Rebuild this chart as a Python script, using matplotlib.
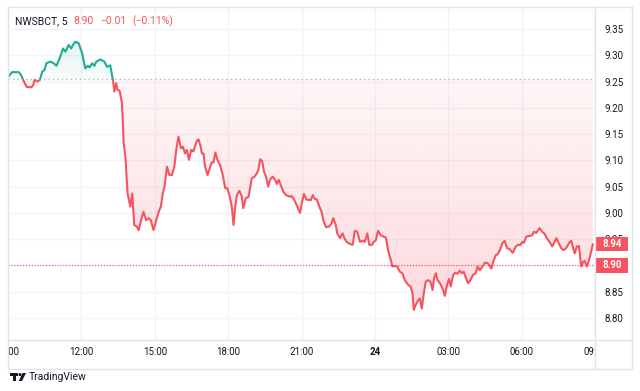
import numpy as np
import matplotlib
matplotlib.use("Agg")
import matplotlib.pyplot as plt
from matplotlib.patches import Rectangle, PathPatch, Polygon, Circle
from matplotlib.path import Path
from matplotlib.transforms import Bbox, TransformedBbox, Affine2D
from matplotlib.lines import Line2D

# 5-minute chart, time in hours from 00:00 of day one (24 = midnight "24")
hours = [9.00, 9.17, 9.44, 9.54, 9.62, 9.76, 9.95, 10.03, 10.09, 10.19, 10.30, 10.40, 10.49, 10.57, 10.73,
         10.87, 10.98, 11.11, 11.25, 11.35, 11.48, 11.58, 11.66, 11.76, 11.89, 12.03, 12.16, 12.26, 12.34,
         12.44, 12.53, 12.61, 12.78, 12.94, 13.05, 13.18, 13.29, 13.35, 13.42, 13.48, 13.56, 13.66, 13.73,
         13.80, 13.89, 14.00, 14.08, 14.16, 14.27, 14.34, 14.44, 14.54, 14.65, 14.75, 14.84, 14.95, 15.06,
         15.16, 15.25, 15.33, 15.40, 15.50, 15.60, 15.70, 15.80, 15.88, 15.97, 16.07, 16.15, 16.24, 16.31,
         16.40, 16.49, 16.58, 16.72, 16.79, 16.86, 16.93, 16.99, 17.06, 17.16, 17.27, 17.33, 17.40, 17.48,
         17.56, 17.67, 17.78, 17.88, 17.97, 18.05, 18.15, 18.22, 18.29, 18.36, 18.46, 18.56, 18.62, 18.72,
         18.83, 18.97, 19.06, 19.17, 19.24, 19.31, 19.39, 19.47, 19.55, 19.64, 19.71, 19.82, 19.92, 19.99,
         20.07, 20.15, 20.26, 20.37, 20.46, 20.53, 20.60, 20.69, 20.80, 20.94, 21.01, 21.10, 21.21, 21.32,
         21.38, 21.46, 21.55, 21.62, 21.73, 21.82, 21.89, 22.00, 22.13, 22.23, 22.30, 22.40, 22.46, 22.57,
         22.68, 22.75, 22.84, 22.98, 23.09, 23.18, 23.28, 23.39, 23.50, 23.59, 23.69, 23.77, 23.87, 23.96,
         24.04, 24.13, 24.23, 24.34, 24.45, 24.54, 24.61, 24.72, 24.82, 24.91, 25.02, 25.13, 25.22, 25.36,
         25.46, 25.54, 25.59, 25.67, 25.77, 25.84, 25.92, 26.00, 26.08, 26.18, 26.27, 26.36, 26.42, 26.49,
         26.56, 26.65, 26.76, 26.86, 26.95, 27.03, 27.10, 27.20, 27.29, 27.38, 27.47, 27.55, 27.63, 27.71,
         27.81, 27.91, 28.01, 28.12, 28.20, 28.29, 28.40, 28.49, 28.58, 28.67, 28.76, 28.86, 28.94, 29.03,
         29.13, 29.21, 29.31, 29.40, 29.51, 29.64, 29.76, 29.85, 29.95, 30.03, 30.09, 30.19, 30.33, 30.44,
         30.50, 30.60, 30.73, 30.84, 30.94, 31.03, 31.14, 31.25, 31.35, 31.42, 31.52, 31.62, 31.71, 31.82,
         31.93, 32.03, 32.09, 32.17, 32.26, 32.34, 32.44, 32.50, 32.57, 32.67, 32.78, 32.91]

prices = [9.259, 9.268, 9.268, 9.262, 9.253, 9.240, 9.239, 9.243, 9.253, 9.250, 9.253, 9.269, 9.272, 9.285,
          9.288, 9.285, 9.280, 9.294, 9.313, 9.307, 9.320, 9.313, 9.320, 9.326, 9.323, 9.304, 9.275, 9.280,
          9.277, 9.285, 9.280, 9.288, 9.292, 9.288, 9.278, 9.281, 9.253, 9.231, 9.247, 9.234, 9.233, 9.209,
          9.133, 9.107, 9.037, 9.012, 9.037, 8.977, 8.974, 8.967, 8.986, 9.002, 8.986, 8.990, 8.986, 8.967,
          8.986, 9.002, 9.012, 9.037, 9.050, 9.088, 9.072, 9.072, 9.088, 9.120, 9.145, 9.123, 9.126, 9.113,
          9.120, 9.101, 9.120, 9.117, 9.137, 9.140, 9.129, 9.113, 9.113, 9.088, 9.072, 9.088, 9.096, 9.096,
          9.115, 9.101, 9.091, 9.072, 9.047, 9.047, 9.034, 9.012, 8.977, 9.012, 9.034, 9.042, 9.031, 9.009,
          9.028, 9.030, 9.066, 9.068, 9.075, 9.082, 9.102, 9.099, 9.078, 9.069, 9.050, 9.063, 9.069, 9.063,
          9.055, 9.063, 9.053, 9.040, 9.034, 9.032, 9.031, 9.032, 9.026, 9.015, 9.000, 9.018, 9.036, 9.025,
          9.025, 9.024, 9.034, 9.026, 9.026, 9.012, 9.002, 8.986, 8.973, 8.974, 8.980, 8.990, 8.977, 8.961,
          8.952, 8.961, 8.952, 8.945, 8.941, 8.939, 8.966, 8.964, 8.945, 8.947, 8.945, 8.961, 8.939, 8.939,
          8.945, 8.948, 8.966, 8.958, 8.955, 8.953, 8.929, 8.917, 8.898, 8.899, 8.898, 8.888, 8.885, 8.872,
          8.863, 8.860, 8.847, 8.815, 8.825, 8.834, 8.837, 8.818, 8.847, 8.869, 8.872, 8.869, 8.853, 8.876,
          8.885, 8.872, 8.867, 8.857, 8.842, 8.863, 8.874, 8.860, 8.882, 8.886, 8.884, 8.890, 8.885, 8.888,
          8.878, 8.866, 8.872, 8.882, 8.885, 8.898, 8.891, 8.898, 8.905, 8.905, 8.901, 8.894, 8.910, 8.919,
          8.922, 8.931, 8.942, 8.947, 8.933, 8.931, 8.924, 8.936, 8.939, 8.939, 8.945, 8.943, 8.955, 8.956,
          8.958, 8.964, 8.962, 8.971, 8.964, 8.960, 8.952, 8.945, 8.936, 8.945, 8.952, 8.942, 8.933, 8.929,
          8.933, 8.942, 8.947, 8.936, 8.923, 8.936, 8.937, 8.898, 8.905, 8.909, 8.898, 8.914, 8.940]

baseline = 9.255
last_price = 8.94
ref_price = 8.90
price_ticks = [8.80, 8.85, 8.90, 8.95, 9.00, 9.05, 9.10, 9.15, 9.20, 9.25, 9.30, 9.35]
time_ticks = [9, 12, 15, 18, 21, 24, 27, 30, 33]
time_labels = ["09:00", "12:00", "15:00", "18:00", "21:00", "24", "03:00", "06:00", "09:00"]
header = [("NWSBCT, 5", "#131722"), ("8.90", "#f7525f"), ("\u22120.01", "#f7525f"), ("(\u22120.11%)", "#f7525f")]

if len(hours) != len(prices):
    raise ValueError("length mismatch %d %d" % (len(hours), len(prices)))

GREEN = "#22ab94"
RED = "#f7525f"
BORDER = "#e0e3eb"
TEXT = "#131722"
plt.rcParams["font.family"] = ["Roboto", "DejaVu Sans"]

W, H = 640, 391
fig = plt.figure(figsize=(6.4, 3.91), dpi=100)
px = Affine2D().scale(1 / W, -1 / H).translate(0, 1) + fig.transFigure

ax = fig.add_axes([8 / W, 1 - 340 / H, 587 / W, 333 / H])
xmin, xmax = 9.0, 32.98
ymin, ymax = 8.758, 9.392

h = np.array(hours)
p = np.array(prices)

# gradient fills clipped to the area between the line and the baseline
def gradient_fill(where, y0, y1, a0, a1, color):
    poly = ax.fill_between(h, p, baseline, where=where, interpolate=True, color="none", lw=0)
    path = Path.make_compound_path(*poly.get_paths())
    patch = PathPatch(path, transform=ax.transData, facecolor="none", edgecolor="none")
    ax.add_patch(patch)
    rgb = matplotlib.colors.to_rgb(color)
    img = np.zeros((256, 1, 4))
    img[:, 0, :3] = rgb
    img[:, 0, 3] = np.linspace(a0, a1, 256)
    im = ax.imshow(img, extent=[xmin, xmax, y0, y1], origin="lower", aspect="auto",
                   zorder=1, interpolation="bilinear")
    im.set_clip_path(patch)

gradient_fill(p <= baseline, 8.80, baseline, 0.22, 0.05, RED)
gradient_fill(p >= baseline, baseline, 9.33, 0.04, 0.12, GREEN)

# line: green above the baseline, red below
lg, = ax.plot(h, p, color=GREEN, lw=1.5, zorder=3, solid_joinstyle="round")
lg.set_clip_path(Rectangle((xmin, baseline), xmax - xmin, 1, transform=ax.transData))
lr, = ax.plot(h, p, color=RED, lw=1.5, zorder=3, solid_joinstyle="round")
lr.set_clip_path(Rectangle((xmin, baseline - 1), xmax - xmin, 1, transform=ax.transData))

ax.axhline(baseline, color="#b2b5be", lw=1, ls=(0, (1, 2.2)), zorder=2)
ax.axhline(ref_price, color=RED, lw=0.8, ls=(0, (1, 1.6)), zorder=2)

ax.set_xlim(xmin, xmax)
ax.set_ylim(ymin, ymax)
ax.set_yticks(price_ticks)
# the 8.90 scale label sits under the price tag, so only the tag shows it
ax.set_yticklabels(["" if abs(v - ref_price) < 1e-9 else "%.2f" % v for v in price_ticks])
ax.set_xticks(time_ticks)
ax.set_xticklabels(time_labels)
ax.grid(True, color="#f0f3fa", lw=1)
ax.set_axisbelow(True)
ax.yaxis.tick_right()
ax.tick_params(axis="y", length=0, pad=6.5, labelsize=7, labelcolor=TEXT)
ax.tick_params(axis="x", length=0, pad=5, labelsize=7, labelcolor=TEXT)
for s in ax.spines.values():
    s.set_visible(False)

clip = TransformedBbox(Bbox([[8 / W, 0], [595 / W, 1]]), fig.transFigure)
for t in ax.xaxis.get_major_ticks():
    t.label1.set_clip_box(clip)
    t.label1.set_clip_on(True)
    if t.label1.get_text() == "24":
        t.label1.set_fontweight("bold")

# price labels on the scale
ytr = ax.get_yaxis_transform()
for val in [last_price, ref_price]:
    ax.add_patch(Rectangle((1.0, val - 0.0135), 33 / 587, 0.027, transform=ytr,
                           facecolor=RED, edgecolor="none", clip_on=False, zorder=5))
    ax.text(1 + 17 / 587, val, "%.2f" % val, transform=ytr, ha="center", va="center",
            color="white", fontsize=7, fontweight="bold", clip_on=False, zorder=6)

# frame lines
for (x0, y0, x1, y1) in [(8, 7, 632, 7), (8, 340, 632, 340), (8, 369, 632, 369),
                         (8, 7, 8, 369), (595, 7, 595, 369), (632, 7, 632, 369)]:
    fig.add_artist(Line2D([x0, x1], [y0, y1], transform=px, color=BORDER, lw=1))

# header, laid out piece by piece
renderer = fig.canvas.get_renderer()
xpos = 15
for txt, col in header:
    t = fig.text(xpos, 21, txt, transform=px, color=col, fontsize=7.5, va="center")
    xpos += t.get_window_extent(renderer).width + 6

# TradingView mark
fig.add_artist(Polygon([(10, 373), (18, 373), (18, 376), (16, 376), (16, 381), (13, 381), (13, 376), (10, 376)],
                       closed=True, transform=px, facecolor=TEXT, edgecolor="none"))
fig.add_artist(Circle((20, 374.6), 1.5, transform=px, facecolor=TEXT, edgecolor="none"))
fig.add_artist(Polygon([(22.5, 373), (26, 373), (22, 381), (18.8, 381)],
                       closed=True, transform=px, facecolor=TEXT, edgecolor="none"))
fig.text(29, 377, "TradingView", transform=px, color=TEXT, fontsize=7.5, va="center")

fig.savefig("out.png", dpi=100, facecolor="white")
